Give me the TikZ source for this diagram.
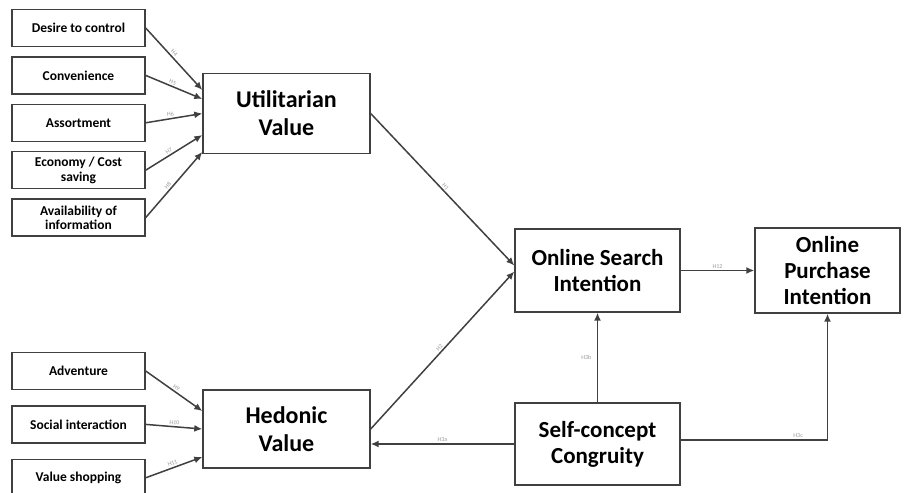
\documentclass[tikz,border=0pt]{standalone}
\usepackage{fontspec}
\setmainfont{Carlito}
\usetikzlibrary{positioning, arrows.meta}
\tikzstyle{FactorBox} = [draw=black!75, line width=1.4pt, minimum width=133pt, minimum height=37pt, inner sep=0pt, align=center, font=\fontsize{13.5}{14.5}\selectfont\bfseries]
\tikzstyle{ValueBox} = [draw=black!75, line width=1.4pt, minimum width=167pt, minimum height=80pt, align=center, font=\fontsize{24}{28}\selectfont\bfseries]
\tikzstyle{IntentBox} = [draw=black!75, line width=1.4pt, minimum width=165pt, minimum height=83pt, inner sep=0pt, align=center, font=\fontsize{23}{26}\selectfont\bfseries]

\begin{document}
\begin{tikzpicture}[x=1pt, y=-1pt, node distance = 9pt,
    link/.style={draw=black!75, line width=1.5pt, -{Latex[length=8pt, width=7pt]}},
    hyp/.style={font=\fontsize{6}{6}\selectfont, text=black!40, sloped, above, inner sep=1.5pt}]
    \useasboundingbox (0,0) rectangle (911,493);

    % utilitarian side
    \node[FactorBox] (desire) at (78.5,28) {Desire to control};
    \node[FactorBox] (conv) [below = of desire] {Convenience};
    \node[FactorBox] (assort) [below = of conv] {Assortment};
    \node[FactorBox] (econ) [below = of assort] {Economy / Cost\\saving};
    \node[FactorBox] (avail) [below = of econ] {Availability of\\information};
    \node[ValueBox] (util) at (286.5,113.5) {Utilitarian\\Value};

    % hedonic side
    \node[FactorBox] (advent) at (78.5,371) {Adventure};
    \node[FactorBox, node distance = 15pt] (social) [below = of advent] {Social interaction};
    \node[FactorBox, node distance = 15pt] (shop) [below = of social] {Value shopping};
    \node[ValueBox, minimum height=78pt] (hedon) at (286.5,429) {Hedonic\\Value};

    % intentions
    \node[IntentBox] (search) at (597.5,270.5) {Online Search\\Intention};
    \node[IntentBox, minimum width=145pt, minimum height=85pt] (purchase) at (827.5,270.5) {Online\\Purchase\\Intention};
    \node[IntentBox, minimum height=82pt] (congru) at (597.5,444) {Self-concept\\Congruity};

    \draw[link] (desire.east) -- node[hyp, pos=0.45] {H4} ([yshift=23.5pt]util.west);
    \draw[link] (conv.east) -- node[hyp, pos=0.45] {H5} ([yshift=14.5pt]util.west);
    \draw[link] (assort.east) -- node[hyp, pos=0.45] {H6} (util.west);
    \draw[link] (econ.east) -- node[hyp, pos=0.45] {H7} ([yshift=-21.5pt]util.west);
    \draw[link] (avail.east) -- node[hyp, pos=0.45] {H8} ([yshift=-38.5pt]util.west);

    \draw[link] (advent.east) -- node[hyp] {H9} ([yshift=18pt]hedon.west);
    \draw[link] (social.east) -- node[hyp] {H10} (hedon.west);
    \draw[link] (shop.east) -- node[hyp] {H11} ([yshift=-28pt]hedon.west);

    \draw[link] (util.east) -- node[hyp, pos=0.5] {H1} ([yshift=5pt]search.west);
    \draw[link] (hedon.east) -- node[hyp, pos=0.5] {H2} ([yshift=-1pt]search.west);
    \draw[link] (search.east) -- node[hyp] {H12} (purchase.west);

    \draw[link] (congru.north) -- node[hyp, sloped=false, left=4pt] {H3b} (search.south);
    \draw[link] (congru.west) -- node[hyp, sloped=false] {H3a} (congru.west -| hedon.east);
    \draw[link] ([yshift=4pt]congru.east) -| node[hyp, sloped=false, pos=0.4] {H3c} (purchase.south);
  \end{tikzpicture}
\end{document}
